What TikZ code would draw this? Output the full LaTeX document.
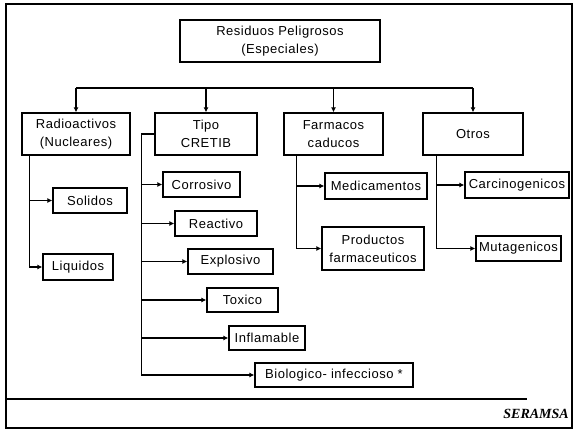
\documentclass[tikz,border=0pt]{standalone}
\usepackage{fontspec}
\setmainfont{Liberation Sans}[LetterSpace=4]
\newfontfamily\serfont{Liberation Serif}
\usetikzlibrary{arrows.meta,calc}
\tikzset{
  box/.style={draw, line width=1.3pt, inner sep=0pt, align=center,
    font=\fontsize{13}{18}\selectfont},
  link/.style={line width=1.3pt},
  arr/.style={line width=1.3pt, -{Latex[length=5pt,width=5pt]}},
}
\begin{document}
\begin{tikzpicture}[x=1pt,y=-1pt]
\useasboundingbox (0,0) rectangle (575,430);
% frame
\draw[line width=1.3pt] (6,4) rectangle (572,428);
\draw[line width=1.4pt] (6,399) -- (527,399);
\node[anchor=east, inner sep=0pt, font=\serfont\fontsize{14}{16}\selectfont\bfseries\itshape] (ser) at (569,414) {SERAMSA};

% root
\node[box, minimum width=200pt, minimum height=42pt] (title) at (280,41) {Residuos Peligrosos\\(Especiales)};
\coordinate (busL) at (76,88);
\coordinate (busR) at (473,88);
\draw[link] (busL) -- (busR);

% level 1
\node[box, minimum width=108pt, minimum height=42pt] (rad) at (76,134) {Radioactivos\\(Nucleares)};
\node[box, minimum width=102pt, minimum height=42pt] (tipo) at (206,134) {Tipo\\CRETIB};
\node[box, minimum width=99pt, minimum height=42pt] (farm) at (333.5,134) {Farmacos\\caducos};
\node[box, minimum width=100pt, minimum height=42pt] (otros) at (473,134) {Otros};

\foreach \n in {rad,tipo,farm,otros}
  \draw[arr] (\n.north |- busL) -- (\n.north);

% level 2
\node[box, minimum width=74pt, minimum height=25pt] (solidos) at (90,200.5) {Solidos};
\node[box, minimum width=70pt, minimum height=26pt] (liquidos) at (78,267) {Liquidos};

\node[box, minimum width=77pt, minimum height=25pt] (corrosivo) at (201.5,184.5) {Corrosivo};
\node[box, minimum width=82pt, minimum height=25pt] (reactivo) at (216,223.5) {Reactivo};
\node[box, minimum width=85pt, minimum height=25pt] (explosivo) at (230.5,261.5) {Explosivo};
\node[box, minimum width=71pt, minimum height=24pt] (toxico) at (242.5,300) {Toxico};
\node[box, minimum width=76pt, minimum height=24pt] (inflamable) at (267,338) {Inflamable};
\node[box, minimum width=158pt, minimum height=24pt] (bio) at (334,375) {Biologico- infeccioso *};

\node[box, minimum width=102pt, minimum height=26pt] (medic) at (376,186) {Medicamentos};
\node[box, minimum width=102pt, minimum height=43pt] (prod) at (373,248.5) {Productos\\farmaceuticos};

\node[box, minimum width=104pt, minimum height=26pt] (carc) at (517,185) {Carcinogenicos};
\node[box, minimum width=85pt, minimum height=25pt] (muta) at (518.5,248.5) {Mutagenicos};

% connectors
\coordinate (r0) at ($(rad.south west)+(8,0)$);
\draw[arr] (r0) |- (solidos.west);
\draw[arr] (r0) |- (liquidos.west);

\draw[link] (tipo.west) -- ++(-13,0) coordinate (t0);
\foreach \c in {corrosivo,reactivo,explosivo,toxico,inflamable,bio}
  \draw[arr] (t0) |- (\c.west);

\coordinate (f0) at ($(farm.south west)+(13,0)$);
\draw[arr] (f0) |- (medic.west);
\draw[arr] (f0) |- (prod.west);

\coordinate (o0) at ($(otros.south west)+(14,0)$);
\draw[arr] (o0) |- (carc.west);
\draw[arr] (o0) |- (muta.west);
\end{tikzpicture}
\end{document}
